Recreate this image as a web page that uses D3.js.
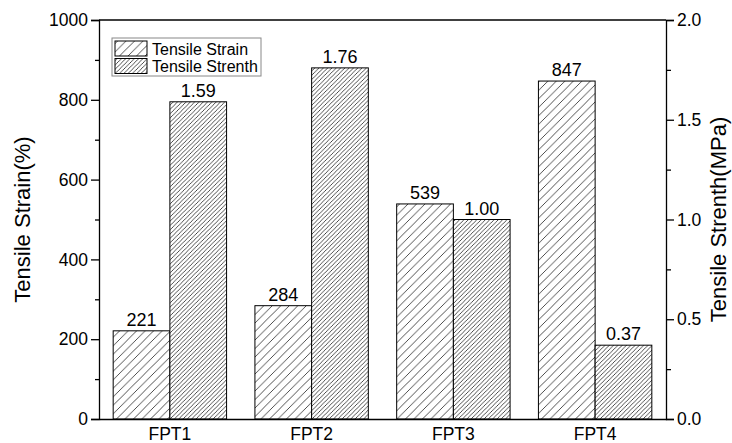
<!DOCTYPE html>
<html>
<head>
<meta charset="utf-8">
<script src="https://cdn.jsdelivr.net/npm/d3@7"></script>
<style>
  html, body { margin: 0; padding: 0; background: #fff; }
  svg { display: block; font-family: "Liberation Sans", Arial, sans-serif; }
</style>
</head>
<body>
<svg id="chart" width="732" height="443"></svg>
<script>
// Sample labels and measured values
const categories = ["FPT1", "FPT2", "FPT3", "FPT4"];
const strain = [221, 284, 539, 847];          // Tensile Strain (%)
const strength = [1.59, 1.76, 1.00, 0.37];    // Tensile Strength (MPa)
const strainLabels = ["221", "284", "539", "847"];
const strengthLabels = ["1.59", "1.76", "1.00", "0.37"];
const leftTicks = [0, 200, 400, 600, 800, 1000];
const rightTicks = [0, 0.5, 1.0, 1.5, 2.0];
const seriesNames = ["Tensile Strain", "Tensile Strenth"];

const W = 732, H = 443;
const m = { left: 99, right: 66, top: 20, bottom: 24 };
const x0 = m.left, x1 = W - m.right, y0 = H - m.bottom, y1 = m.top;

const svg = d3.select("#chart");

// Hatch fills
const defs = svg.append("defs");
function hatch(id, step) {
  const p = defs.append("pattern")
    .attr("id", id)
    .attr("patternUnits", "userSpaceOnUse")
    .attr("width", step).attr("height", step);
  p.append("rect").attr("width", step).attr("height", step).attr("fill", "#fff");
  p.append("path")
    .attr("d", `M0,${step} L${step},0 M${-step/2},${step/2} L${step/2},${-step/2} M${step/2},${step*1.5} L${step*1.5},${step/2}`)
    .attr("stroke", "#222").attr("stroke-width", 0.8).attr("fill", "none");
}
hatch("hatchSparse", 8.5);
hatch("hatchDense", 4.3);

const x = d3.scaleBand().domain(categories).range([x0, x1]).paddingInner(0.2).paddingOuter(0.1);
const xs = d3.scaleBand().domain([0, 1]).range([0, x.bandwidth()]);
const yL = d3.scaleLinear().domain([0, 1000]).range([y0, y1]);
const yR = d3.scaleLinear().domain([0, 2]).range([y0, y1]);

// Bars
const g = svg.append("g");
categories.forEach((c, i) => {
  const bx = x(c);
  g.append("rect")
    .attr("x", bx + xs(0)).attr("y", yL(strain[i]))
    .attr("width", xs.bandwidth()).attr("height", y0 - yL(strain[i]))
    .attr("fill", "url(#hatchSparse)").attr("stroke", "#000").attr("stroke-width", 1);
  g.append("rect")
    .attr("x", bx + xs(1)).attr("y", yR(strength[i]))
    .attr("width", xs.bandwidth()).attr("height", y0 - yR(strength[i]))
    .attr("fill", "url(#hatchDense)").attr("stroke", "#000").attr("stroke-width", 1);
  g.append("text")
    .attr("x", bx + xs(0) + xs.bandwidth() / 2).attr("y", yL(strain[i]) - 5)
    .attr("text-anchor", "middle").attr("font-size", 18).text(strainLabels[i]);
  g.append("text")
    .attr("x", bx + xs(1) + xs.bandwidth() / 2).attr("y", yR(strength[i]) - 5)
    .attr("text-anchor", "middle").attr("font-size", 18).text(strengthLabels[i]);
});

// Axes
const leftAxis = d3.axisLeft(yL).tickValues(leftTicks).tickSize(8).tickPadding(3).tickFormat(d3.format("d"));
const leftMinor = d3.axisLeft(yL).tickValues(d3.range(100, 1000, 200)).tickSize(4).tickFormat("");
const rightAxis = d3.axisRight(yR).tickValues(rightTicks).tickSize(8).tickPadding(3).tickFormat(d3.format(".1f"));
const rightMinor = d3.axisRight(yR).tickValues([0.25, 0.75, 1.25, 1.75]).tickSize(5).tickFormat("");
const bottomAxis = d3.axisBottom(x).tickSize(0).tickPadding(9);

function style(sel) {
  sel.selectAll("path").attr("stroke", "#000").attr("stroke-width", 1.3);
  sel.selectAll("line").attr("stroke", "#000").attr("stroke-width", 1.3);
  sel.selectAll("text").attr("font-size", 17.5).attr("fill", "#000").attr("font-family", "Liberation Sans, Arial, sans-serif");
}
svg.append("g").attr("transform", `translate(${x0},0)`).call(leftAxis).call(style);
svg.append("g").attr("transform", `translate(${x0},0)`).call(leftMinor).call(style).select(".domain").remove();
svg.append("g").attr("transform", `translate(${x1},0)`).call(rightAxis).call(style);
svg.append("g").attr("transform", `translate(${x1},0)`).call(rightMinor).call(style).select(".domain").remove();
svg.append("g").attr("transform", `translate(0,${y0})`).call(bottomAxis).call(style);
svg.append("line").attr("x1", x0).attr("x2", x1).attr("y1", y1).attr("y2", y1)
  .attr("stroke", "#000").attr("stroke-width", 1.3);

// Axis titles
svg.append("text")
  .attr("transform", `translate(30,${(y0 + y1) / 2}) rotate(-90)`)
  .attr("text-anchor", "middle").attr("font-size", 22).text("Tensile Strain(%)");
svg.append("text")
  .attr("transform", `translate(726,${(y0 + y1) / 2}) rotate(-90)`)
  .attr("text-anchor", "middle").attr("font-size", 22).text("Tensile Strenth(MPa)");

// Legend
const lg = svg.append("g").attr("transform", "translate(112,38)");
lg.append("rect").attr("width", 149).attr("height", 38)
  .attr("fill", "#fff").attr("stroke", "#888").attr("stroke-width", 1);
seriesNames.forEach((name, i) => {
  lg.append("rect").attr("x", 3).attr("y", 3 + i * 17.5).attr("width", 32).attr("height", 15)
    .attr("fill", i === 0 ? "url(#hatchSparse)" : "url(#hatchDense)")
    .attr("stroke", "#000").attr("stroke-width", 1);
  lg.append("text").attr("x", 40).attr("y", 16.5 + i * 17.5)
    .attr("font-size", 16).text(name);
});
</script>
</body>
</html>
